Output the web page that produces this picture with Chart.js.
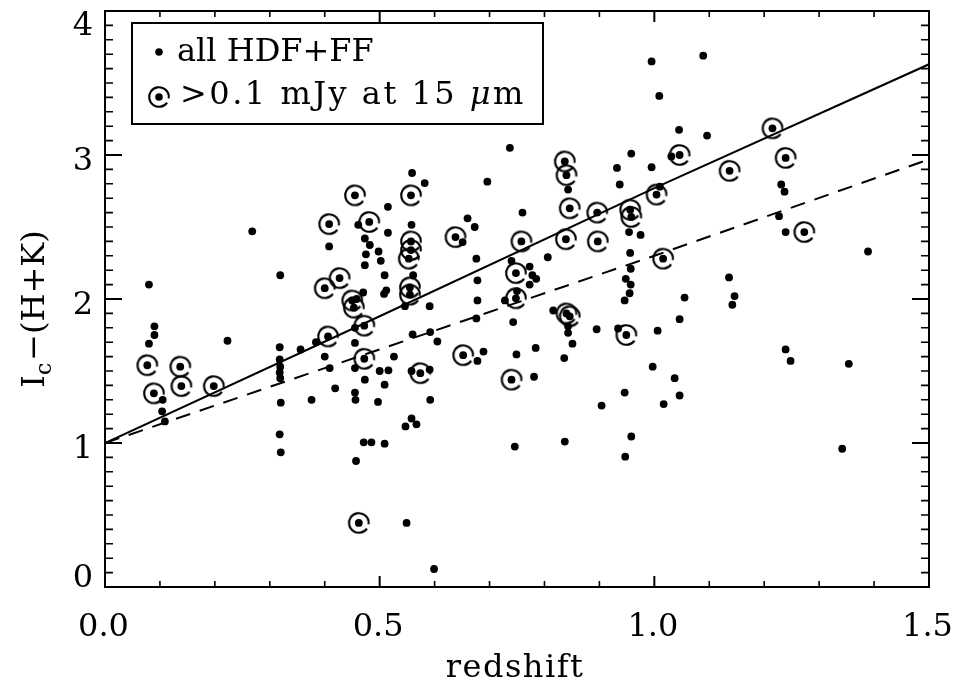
<!DOCTYPE html>
<html><head><meta charset="utf-8">
<script src="https://cdn.jsdelivr.net/npm/chart.js@4.4.1/dist/chart.umd.min.js"></script>
<style>html,body{margin:0;padding:0;background:#fff;}canvas{display:block;}</style>
</head><body>
<canvas id="c" width="956" height="683"></canvas>
<script>
// ---- data ----
const dotZ = [0.08,0.09,0.09,0.08,0.105,0.104,0.109,0.223,0.268,0.319,0.318,0.318,0.319,0.318,0.319,0.320,0.318,0.320,0.356,0.376,
0.384,0.400,0.409,0.419,0.408,0.458,0.470,0.455,0.455,0.455,0.473,0.500,0.516,0.509,0.455,0.456,0.497,0.547,0.471,0.485,
0.509,0.457,0.473,0.482,0.475,0.498,0.473,0.502,0.509,0.512,0.508,0.515,0.461,0.515,0.526,0.995,1.089,1.009,0.737,1.045,
1.096,1.031,0.958,0.932,0.995,0.937,1.010,0.843,0.954,0.975,0.696,0.760,0.559,0.582,0.558,0.651,0.660,0.673,1.227,1.231,
1.237,1.239,1.389,1.136,1.146,1.142,1.239,1.248,1.354,1.342,0.956,0.957,0.948,0.957,0.955,0.946,1.055,1.046,1.006,0.895,
0.934,0.997,1.037,1.046,1.017,0.946,0.904,0.958,0.947,0.837,0.746,0.740,0.773,0.778,0.785,0.773,0.728,0.750,0.806,0.676,
0.678,0.678,0.676,0.743,0.591,0.816,0.843,0.843,0.851,0.836,0.784,0.749,0.781,0.689,0.678,0.560,0.592,0.605,0.558,0.591,
0.592,0.558,0.567,0.561,0.546,0.549,0.599];
const dotC = [2.10,1.81,1.75,1.69,1.30,1.22,1.15,1.71,2.47,2.165,1.665,1.58,1.53,1.49,1.45,1.28,1.06,0.935,1.65,1.30,
1.70,1.60,1.52,1.38,2.365,2.00,2.045,1.80,1.695,1.52,1.44,1.50,1.505,1.405,1.35,1.30,1.285,1.115,1.005,1.005,
0.995,0.875,2.42,2.375,2.31,2.33,2.235,2.265,2.165,2.06,2.035,2.46,2.515,2.64,1.60,3.65,3.69,3.41,3.05,3.175,
3.135,2.99,3.01,2.91,2.915,2.795,2.78,2.76,2.465,2.445,2.815,2.60,2.875,2.805,2.515,2.395,2.56,2.50,2.575,2.795,
2.745,2.465,2.33,2.15,2.02,1.96,1.65,1.57,1.55,0.96,2.32,2.21,2.14,2.10,2.04,1.99,2.01,1.86,1.78,1.79,
1.795,1.53,1.45,1.33,1.27,1.35,1.26,1.045,0.905,1.01,0.975,2.265,2.225,2.165,2.14,2.10,1.99,2.055,2.29,2.28,
2.13,1.99,1.865,1.84,1.95,1.92,1.81,1.765,1.69,1.59,1.66,1.615,1.46,1.635,1.57,1.755,1.77,1.705,1.50,1.51,
1.30,1.17,1.13,2.165,1.95,0.445,0.125];
// galaxies brighter than 0.1 mJy at 15 micron (circled)
const isoZ = [0.077,0.089,0.137,0.139,0.198,0.406,0.400,0.427,0.450,0.453,0.472,0.472,0.455,0.408,0.481,0.557,0.557,0.557,0.553,0.555,
0.555,0.574,0.638,0.652,0.748,0.748,0.740,0.758,0.837,0.840,0.846,0.839,0.840,0.846,0.896,0.897,0.956,0.958,0.949,1.004,
1.016,1.046,1.137,1.215,1.239,1.273,0.462];
const isoC = [1.54,1.345,1.53,1.395,1.395,1.74,2.075,2.145,1.99,1.94,1.815,1.585,2.72,2.52,2.535,2.72,2.40,2.34,2.28,2.08,
2.03,1.485,2.43,1.61,2.18,2.005,1.44,2.40,2.955,2.86,2.63,2.415,1.90,1.88,2.60,2.40,2.62,2.57,1.75,2.725,
2.28,3.00,2.89,3.185,2.98,2.465,0.445];
// model tracks
const solidZ = [0.0, 0.5, 1.0, 1.5];
const solidC = [1.0, 1.88, 2.77, 3.63];
const dashZ = [0.0, 0.5, 1.0, 1.5];
const dashC = [1.0, 1.65, 2.30, 2.97];
// axes
const xTicks = [0.0, 0.5, 1.0, 1.5];
const xTickLabels = ['0.0', '0.5', '1.0', '1.5'];
const yTicks = [0, 1, 2, 3, 4];
const yTickLabels = ['0', '1', '2', '3', '4'];
const xMinorStep = 0.1, yMinorStep = 0.1;
const xTitle = 'redshift';
const yTitleMain = 'I', yTitleSub = 'c', yTitleRest = '\u2212(H+K)';
const legendLabels = ['all HDF+FF', '>0.1 mJy at 15 ', '\u03bc', 'm'];

// ---- styling helpers ----
const FONT = '"DejaVu Serif", serif';
function makeRing() {
  const c = document.createElement('canvas');
  c.width = 26; c.height = 26;
  const g = c.getContext('2d');
  g.strokeStyle = '#000'; g.lineWidth = 2.1;
  g.beginPath(); g.arc(13, 13, 9.8, 0.6, 2 * Math.PI + 0.15); g.stroke();
  return c;
}
const ring = makeRing();

const pts = (xs, ys) => xs.map((x, i) => ({ x: x, y: ys[i] }));

const framePlugin = {
  id: 'frame',
  afterDraw(chart) {
    const ctx = chart.ctx, ca = chart.chartArea, xs = chart.scales.x, ys = chart.scales.y;
    ctx.save();
    ctx.strokeStyle = '#000'; ctx.fillStyle = '#000';
    ctx.lineWidth = 2;
    ctx.strokeRect(ca.left, ca.top, ca.right - ca.left, ca.bottom - ca.top);
    // x ticks (inside, bottom and top)
    const nx = Math.round((xs.max - xs.min) / xMinorStep);
    for (let i = 0; i <= nx; i++) {
      const v = xs.min + i * xMinorStep;
      const major = xTicks.some(t => Math.abs(t - v) < 1e-6);
      const px = xs.getPixelForValue(v);
      const L = major ? 11 : 6;
      ctx.lineWidth = major ? 2 : 1.6;
      ctx.beginPath();
      ctx.moveTo(px, ca.bottom); ctx.lineTo(px, ca.bottom - L);
      ctx.moveTo(px, ca.top); ctx.lineTo(px, ca.top + L);
      ctx.stroke();
    }
    const ny = Math.round((ys.max - ys.min) / yMinorStep);
    for (let i = 0; i <= ny; i++) {
      const v = ys.min + i * yMinorStep;
      const major = yTicks.some(t => Math.abs(t - v) < 1e-6);
      const py = ys.getPixelForValue(v);
      const L = major ? 17 : 8;
      ctx.lineWidth = major ? 2 : 1.6;
      ctx.beginPath();
      ctx.moveTo(ca.left, py); ctx.lineTo(ca.left + L, py);
      ctx.moveTo(ca.right, py); ctx.lineTo(ca.right - L, py);
      ctx.stroke();
    }
    // tick labels
    ctx.font = '32px ' + FONT;
    ctx.textAlign = 'center'; ctx.textBaseline = 'alphabetic';
    xTicks.forEach((t, i) => {
      ctx.fillText(xTickLabels[i], xs.getPixelForValue(t) - 1.5, ca.bottom + 49);
    });
    ctx.textAlign = 'right';
    yTicks.forEach((t, i) => {
      const py = ys.getPixelForValue(t);
      const base = Math.min(Math.max(py + 15, ca.top + 24), ca.bottom);
      ctx.fillText(yTickLabels[i], ca.left - 12, base);
    });
    // x title
    ctx.textAlign = 'center';
    ctx.letterSpacing = '1.5px';
    ctx.fillText(xTitle, (ca.left + ca.right) / 2 - 2, 677);
    ctx.letterSpacing = '0px';
    // y title (rotated, with subscript)
    ctx.save();
    ctx.textAlign = 'left';
    const big = '32px ' + FONT, small = '22px ' + FONT;
    ctx.font = big; const wI = ctx.measureText(yTitleMain).width;
    const wR = ctx.measureText(yTitleRest).width;
    ctx.font = small; const wc = ctx.measureText(yTitleSub).width;
    const total = wI + wc + wR + 2;
    const cy = (ca.top + ca.bottom) / 2 + 10;
    ctx.translate(44, 0); ctx.rotate(-Math.PI / 2);
    const s = -(cy + total / 2);
    ctx.font = big; ctx.fillText(yTitleMain, s, 0);
    ctx.font = small; ctx.fillText(yTitleSub, s + wI, 7);
    ctx.font = big; ctx.fillText(yTitleRest, s + wI + wc + 2, 0);
    ctx.restore();
    // legend box
    ctx.lineWidth = 2;
    ctx.strokeRect(132, 23, 411, 101);
    ctx.beginPath(); ctx.arc(159, 52, 3.8, 0, Math.PI * 2); ctx.fill();
    ctx.beginPath(); ctx.arc(159, 97, 3.8, 0, Math.PI * 2); ctx.fill();
    ctx.drawImage(ring, 159 - 13, 97 - 13);
    ctx.textAlign = 'left';
    ctx.font = '32px ' + FONT;
    ctx.fillText(legendLabels[0], 177, 61);
    ctx.letterSpacing = '2.5px';
    ctx.fillText(legendLabels[1], 180, 104);
    let w = ctx.measureText(legendLabels[1]).width;
    ctx.font = 'italic 32px ' + FONT;
    ctx.fillText(legendLabels[2], 180 + w, 104);
    w += ctx.measureText(legendLabels[2]).width;
    ctx.font = '32px ' + FONT;
    ctx.fillText(legendLabels[3], 180 + w, 104);
    ctx.letterSpacing = '0px';
    ctx.restore();
  }
};

const allDots = pts(dotZ.concat(isoZ), dotC.concat(isoC));

new Chart(document.getElementById('c').getContext('2d'), {
  type: 'scatter',
  data: {
    datasets: [
      { label: legendLabels[0], data: allDots, pointRadius: 3.9, pointBorderWidth: 0,
        pointBackgroundColor: '#000', backgroundColor: '#000', borderColor: '#000', pointStyle: 'circle' },
      { label: '>0.1 mJy at 15 \u03bcm', data: pts(isoZ, isoC), pointRadius: 10, pointStyle: ring,
        backgroundColor: '#000', borderColor: '#000' },
      { label: 'solid', type: 'line', data: pts(solidZ, solidC), borderColor: '#000', borderWidth: 2,
        pointRadius: 0, fill: false, tension: 0, showLine: true },
      { label: 'dashed', type: 'line', data: pts(dashZ, dashC), borderColor: '#000', borderWidth: 2,
        borderDash: [15, 10], pointRadius: 0, fill: false, tension: 0, showLine: true }
    ]
  },
  options: {
    responsive: false, animation: false, devicePixelRatio: 1, events: [],
    layout: { padding: { left: 105, right: 27, top: 8, bottom: 96 } },
    scales: {
      x: { type: 'linear', min: 0, max: 1.5, display: false },
      y: { type: 'linear', min: 0, max: 4, display: false }
    },
    plugins: { legend: { display: false }, tooltip: { enabled: false } }
  },
  plugins: [framePlugin]
});
</script>
</body></html>
